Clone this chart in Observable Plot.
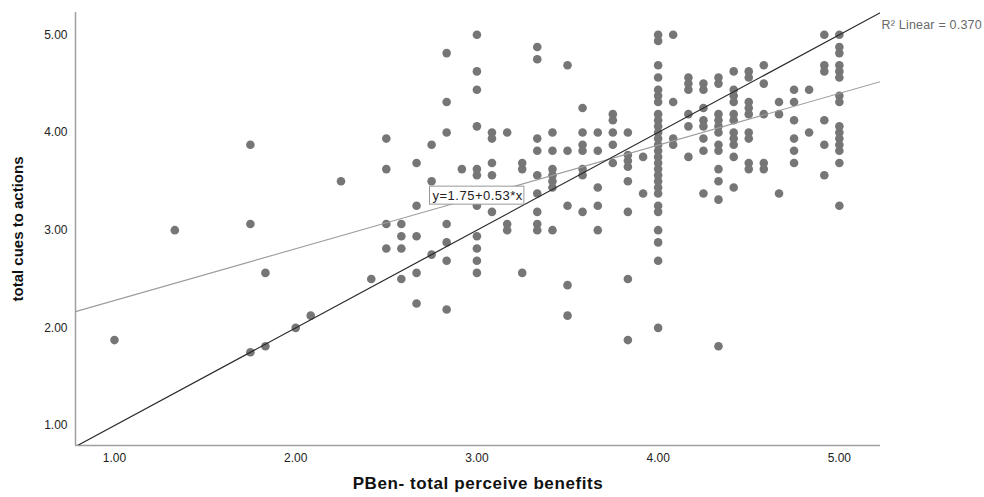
<!DOCTYPE html>
<html>
<head>
<meta charset="utf-8">
<script src="https://cdn.jsdelivr.net/npm/d3@7"></script>
<script src="https://cdn.jsdelivr.net/npm/@observablehq/plot@0.6"></script>
<style>
  html, body { margin: 0; padding: 0; background: #fff; }
  #chart svg { display: block; }
  .fitlabel text { letter-spacing: 0.5px; }
  .xtitle text { letter-spacing: 0.6px; }
  .rlabel text { letter-spacing: 0.2px; }
</style>
</head>
<body>
<div id="chart"></div>
<script>
// PBen - total perceive benefits (x levels)
const pbenLevels = [
  1.0, 1.333, 1.75, 1.833, 2.0, 2.083, 2.25, 2.417, 2.5, 2.583, 2.667, 2.75, 2.833, 2.917,
  3.0, 3.083, 3.167, 3.25, 3.333, 3.417, 3.5, 3.583, 3.667, 3.75, 3.833, 3.917,
  4.0, 4.083, 4.167, 4.25, 4.333, 4.417, 4.5, 4.583, 4.667, 4.75, 4.833, 4.917, 5.0
];
// total cues to actions, one list per x level
const cuesByLevel = [
  [1.875],
  [3.0],
  [3.875, 3.0625, 1.75],
  [2.5625, 1.8125],
  [2.0],
  [2.125],
  [3.5],
  [2.5],
  [3.9375, 3.625, 3.0625, 2.8125],
  [3.0625, 2.9375, 2.8125, 2.5],
  [3.6875, 3.25, 2.9375, 2.5625, 2.25],
  [3.875, 3.5, 2.75],
  [4.8125, 4.3125, 4.0, 3.0625, 2.875, 2.6875, 2.1875],
  [3.625],
  [5.0, 4.625, 4.4375, 4.0625, 3.625, 3.5625, 3.25, 2.9375, 2.8125, 2.6875, 2.5625],
  [4.0, 3.9375, 3.6875, 3.5625, 3.1875],
  [4.0, 3.0625, 3.0],
  [3.6875, 3.625, 2.5625],
  [4.875, 4.75, 3.9375, 3.8125, 3.5625, 3.375, 3.1875, 3.0625, 3.0],
  [4.0, 3.8125, 3.625, 3.5625, 3.5, 3.4375, 3.0],
  [4.6875, 3.8125, 3.25, 2.4375, 2.125],
  [4.25, 4.0, 3.875, 3.8125, 3.625, 3.5625, 3.1875],
  [4.0, 3.8125, 3.4375, 3.25, 3.0],
  [4.1875, 4.125, 4.0, 3.875, 3.6875],
  [4.0, 3.77, 3.71, 3.65, 3.5, 3.1875, 2.5, 1.875],
  [3.75, 3.375],
  [5.0, 4.9375, 4.6875, 4.5625, 4.4375, 4.375, 4.3125,
   4.1875, 4.125, 4.0625, 4.0, 3.9375, 3.875, 3.8125, 3.75, 3.6875, 3.625, 3.5625, 3.5, 3.4375, 3.375,
   3.25, 3.1875, 3.0, 2.875, 2.6875, 2.0],
  [5.0, 4.3125, 3.9375, 3.875],
  [4.5625, 4.5, 4.4375, 4.1875, 4.0625, 3.75],
  [4.5, 4.4375, 4.25, 4.125, 4.0625, 3.9375, 3.8125, 3.375],
  [4.5625, 4.5, 4.1875, 4.125, 4.0625, 4.0, 3.875, 3.8125, 3.625, 3.5, 3.3125, 1.8125],
  [4.625, 4.4375, 4.375, 4.3125, 4.1875, 4.125, 4.0, 3.9375, 3.875, 3.75, 3.4375],
  [4.625, 4.5625, 4.3125, 4.25, 4.1875, 4.0, 3.9375, 3.6875, 3.625],
  [4.6875, 4.5, 4.1875, 3.6875, 3.625],
  [4.3125, 4.1875, 3.375],
  [4.4375, 4.3125, 4.125, 3.9375, 3.8125, 3.6875],
  [4.4375, 4.0],
  [5.0, 4.6875, 4.625, 4.125, 3.875, 3.5625],
  [5.0, 4.875, 4.8125, 4.6875, 4.625, 4.5625, 4.375, 4.3125, 4.0625, 4.0, 3.9375, 3.875, 3.8125, 3.6875, 3.25]
];
const xTicks = [1, 2, 3, 4, 5];
const yTicks = [1, 2, 3, 4, 5];
const fitIntercept = 1.75;
const fitSlope = 0.53;
const rSquared = 0.370;
const xTitle = "PBen- total perceive benefits";
const yTitle = "total cues to actions";

// ---- build table ----
const points = pbenLevels.flatMap((x, i) => cuesByLevel[i].map(y => ({x, y})));

const xDomain = [0.785, 5.227];
const yDomain = [0.796, 5.228];
const fit = x => fitIntercept + fitSlope * x;
const fitLine = xDomain.map(x => ({x, y: fit(x)}));
const lo = Math.max(xDomain[0], yDomain[0]);
const hi = Math.min(xDomain[1], yDomain[1]);
const refLine = [lo, hi].map(v => ({x: v, y: v}));
const fmt = d3.format(".2f");

const font = "'Liberation Sans', Arial, Helvetica, sans-serif";

const chart = Plot.plot({
  width: 984,
  height: 497,
  marginLeft: 75,
  marginRight: 104,
  marginTop: 12,
  marginBottom: 52,
  style: {fontFamily: font, background: "#fff", color: "#222", overflow: "visible"},
  x: {domain: xDomain},
  y: {domain: yDomain},
  marks: [
    Plot.axisX({ticks: xTicks, tickFormat: fmt, tickSize: 0, tickPadding: 8, label: null, fontSize: 12, fill: "#222"}),
    Plot.axisY({ticks: yTicks, tickFormat: fmt, tickSize: 0, tickPadding: 8, label: null, fontSize: 12, fill: "#222"}),
    Plot.ruleX([xDomain[0]], {stroke: "#a0a0a0", strokeWidth: 1.5}),
    Plot.ruleY([yDomain[0]], {stroke: "#a0a0a0", strokeWidth: 1.5}),
    Plot.dot(points, {x: "x", y: "y", r: 4.3, fill: "#767676", stroke: "none"}),
    Plot.line(fitLine, {x: "x", y: "y", stroke: "#9c9c9c", strokeWidth: 1.1, clip: true}),
    Plot.line(refLine, {x: "x", y: "y", stroke: "#2a2a2a", strokeWidth: 1.2, clip: true}),
    Plot.text([`y=${fitIntercept.toFixed(2)}+${fitSlope.toFixed(2)}*x`], {
      x: () => 2.755, y: () => 3.355, textAnchor: "start", fontSize: 13, fill: "#222",
      className: "fitlabel"
    }),
    Plot.text([`R\u00B2 Linear = ${rSquared.toFixed(3)}`], {
      frameAnchor: "top-right", textAnchor: "start", dx: 1, dy: 8, fontSize: 12.5, fill: "#6a6a6a",
      className: "rlabel"
    }),
    Plot.text([xTitle], {frameAnchor: "bottom", dy: 43, fontSize: 17, fontWeight: "bold", fill: "#111", className: "xtitle"}),
    Plot.text([yTitle], {frameAnchor: "left", dx: -57, rotate: -90, textAnchor: "middle", fontSize: 15, fontWeight: "bold", fill: "#111"})
  ]
});

document.getElementById("chart").appendChild(chart);

// white box with gray border behind the fit equation
const svg = chart.tagName.toLowerCase() === "svg" ? chart : chart.querySelector("svg");
svg.querySelectorAll(".fitlabel text").forEach(t => {
  const b = t.getBBox();
  const r = document.createElementNS("http://www.w3.org/2000/svg", "rect");
  r.setAttribute("x", b.x - 3);
  r.setAttribute("y", b.y - 1.5);
  r.setAttribute("width", b.width + 4);
  r.setAttribute("height", b.height + 3);
  r.setAttribute("fill", "#fff");
  r.setAttribute("stroke", "#999");
  r.setAttribute("stroke-width", "1");
  const tr = t.getAttribute("transform");
  if (tr) r.setAttribute("transform", tr);
  t.parentNode.insertBefore(r, t);
});
</script>
</body>
</html>
